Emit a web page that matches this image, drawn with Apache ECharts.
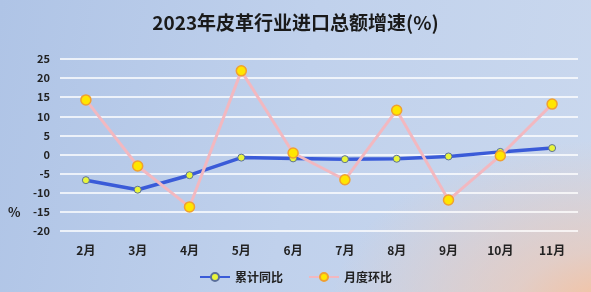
<!DOCTYPE html>
<html><head><meta charset="utf-8">
<script src="https://cdn.jsdelivr.net/npm/echarts@6/dist/echarts.min.js"></script>
<style>
html,body{margin:0;padding:0;}
body{width:591px;height:292px;background:
radial-gradient(ellipse 280px 170px at 610px 310px, rgba(247,192,155,1) 0%, rgba(240,200,178,0.65) 35%, rgba(200,214,236,0) 100%),
linear-gradient(100deg,#afc4e6 0%,#c0d1ec 50%,#cad8ee 100%);}
#c{width:591px;height:292px;}
</style></head>
<body><div id="c"></div>
<script>
const categories = ['2月','3月','4月','5月','6月','7月','8月','9月','10月','11月'];
const cumulativeYoY = [-6.7,-9.2,-5.4,-0.8,-1.0,-1.2,-1.1,-0.5,0.7,1.7];
const monthlyMoM = [14.3,-3.0,-13.7,21.9,0.4,-6.6,11.6,-11.9,-0.3,13.2];
const yTicks = {min:-20,max:25,interval:5};

const chart = echarts.init(document.getElementById('c'));
const font = '"Noto Sans CJK SC", "Noto Sans", sans-serif';
chart.setOption({
  backgroundColor:'transparent',
  animation:false,
  title:{text:'2023年皮革行业进口总额增速(%)',left:'center',top:8,
    textStyle:{fontFamily:font,fontSize:19,fontWeight:'bold',color:'#1a1a1a'}},
  grid:{left:60,right:13,top:59,bottom:61,containLabel:false},
  legend:{bottom:4,left:'center',itemGap:25,itemWidth:30,itemHeight:10,
    textStyle:{fontFamily:font,fontSize:12,fontWeight:'bold',color:'#222'},
    data:['累计同比','月度环比']},
  graphic:[{type:'text',left:8,top:206,style:{text:'%',font:'bold 13px '+font,fill:'#222'}}],
  xAxis:{type:'category',data:categories,boundaryGap:true,
    axisLine:{show:false},axisTick:{show:false},
    axisLabel:{fontFamily:font,fontSize:12,fontWeight:'bold',color:'#222',margin:13}},
  yAxis:{type:'value',min:yTicks.min,max:yTicks.max,interval:yTicks.interval,
    axisLine:{show:false},axisTick:{show:false},
    axisLabel:{fontFamily:font,fontSize:11,fontWeight:'bold',color:'#222',margin:10},
    splitLine:{lineStyle:{color:'#ffffff',width:1.5}}},
  series:[
    {name:'累计同比',type:'line',data:cumulativeYoY,z:2,
     lineStyle:{color:'#3a5bd8',width:3.5},
     symbol:'circle',symbolSize:7,
     itemStyle:{color:'#e8f53a',borderColor:'#5a6f9a',borderWidth:1}},
    {name:'月度环比',type:'line',data:monthlyMoM,z:3,
     lineStyle:{color:'#f2b8c0',width:3},
     symbol:'circle',symbolSize:10,
     itemStyle:{color:'#ffe600',borderColor:'#f0a030',borderWidth:1.5}}
  ]
});
</script></body></html>
